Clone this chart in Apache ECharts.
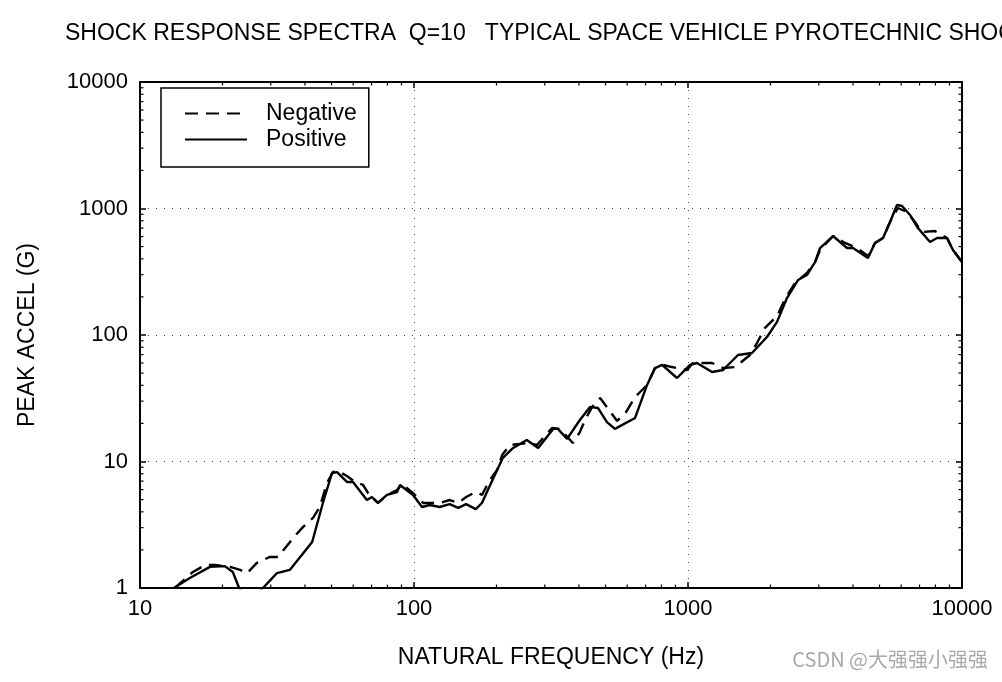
<!DOCTYPE html>
<html>
<head>
<meta charset="utf-8">
<script src="https://cdn.jsdelivr.net/npm/echarts@6/dist/echarts.min.js"></script>
<style>
html,body{margin:0;padding:0;background:#fff;}
#chart{width:1002px;height:682px;}
</style>
</head>
<body>
<div id="chart"></div>
<script>
// Natural frequency (Hz), peak acceleration (G)
const positive = [
  [13.3,1.0],[15.2,1.2],[18.0,1.47],[20.4,1.49],[21.8,1.34],[23.0,1.0],[25.4,0.8],[28.1,1.0],
  [31.6,1.31],[35.2,1.39],[42.5,2.31],[46.5,4.7],[50.2,8.11],[52.4,8.24],[56.9,6.89],[59.9,6.89],
  [67.3,4.96],[70.2,5.24],[73.9,4.7],[79.7,5.44],[86.7,5.74],[88.9,6.52],[99.2,5.44],[107,4.37],
  [114,4.53],[124,4.37],[135,4.6],[145,4.3],[155,4.6],[168,4.2],[177,4.7],[186,5.95],
  [211,10.7],[230,12.8],[258,14.8],[284,12.8],[322,18.1],[335,18.1],[362,15.1],[403,21.3],
  [439,27.0],[469,26.5],[506,20.5],[541,18.1],[641,22.1],[709,40.3],[758,54.8],[804,58.0],
  [912,45.7],[1017,58.0],[1078,60.1],[1224,51.0],[1343,52.9],[1522,69.5],[1712,72.1],[1942,96.4],
  [2113,127],[2297,196],[2520,272],[2717,298],[2908,377],[3034,487],[3383,606],[3805,487],
  [4001,487],[4538,406],[4813,534],[5150,585],[5461,782],[5792,1066],[6043,1047],[6460,889],
  [6906,701],[7643,544],[8108,585],[8817,585],[9270,470],[10000,377]
];
const negative = [
  [13.4,1.0],[15.6,1.34],[17.3,1.52],[18.8,1.52],[21.3,1.47],[23.2,1.39],[24.6,1.31],[26.7,1.58],
  [29.8,1.76],[31.9,1.76],[36.2,2.48],[39.3,3.03],[42.8,3.58],[45.3,4.37],[48.1,6.76],[50.6,8.26],
  [52.8,8.4],[56.9,7.68],[60.9,6.89],[65.2,6.52],[68.0,5.63],[70.2,5.24],[73.9,4.7],[79.7,5.44],
  [86.7,5.95],[90.4,6.64],[99.2,5.63],[108,4.7],[114,4.7],[124,4.7],[135,4.96],[145,4.7],
  [155,5.24],[168,5.74],[177,5.44],[189,7.14],[201,8.57],[210,11.3],[224,13.5],[261,14.0],
  [281,13.5],[319,18.4],[341,18.1],[380,14.0],[403,17.1],[421,21.3],[447,27.0],[478,31.8],
  [515,25.5],[551,20.9],[594,24.6],[641,32.3],[709,40.3],[758,54.8],[811,58.0],[875,55.8],
  [992,52.9],[1042,60.1],[1224,60.1],[1343,54.8],[1486,55.8],[1683,69.5],[1786,86.4],[1910,114],
  [2113,141],[2261,193],[2460,258],[2717,309],[2908,377],[3034,470],[3383,606],[3741,534],
  [4138,487],[4538,421],[4813,534],[5150,585],[5461,782],[5834,1009],[6295,938],[6736,782],
  [7139,651],[7963,664],[8817,585],[9270,470],[10000,377]
];
const seriesNames = ['Negative', 'Positive'];
const xDecades = [10, 100, 1000];
const yDecades = [1, 10, 100, 1000];
const minorMultipliers = [2, 3, 4, 5, 6, 7, 8, 9];
const titleText = 'SHOCK RESPONSE SPECTRA  Q=10   TYPICAL SPACE VEHICLE PYROTECHNIC SHOCK';
const xName = 'NATURAL FREQUENCY (Hz)';
const yName = 'PEAK ACCEL (G)';
const watermark = 'CSDN @大强强小强强';

const X_MIN = 10, X_MAX = 10000, Y_MIN = 1, Y_MAX = 10000;

// minor tick values (kind 0 = x axis, kind 1 = y axis)
const minorTicks = [];
xDecades.forEach(d => minorMultipliers.forEach(m => minorTicks.push([d * m, Y_MIN, 0])));
yDecades.forEach(d => minorMultipliers.forEach(m => minorTicks.push([X_MIN, d * m, 1])));

const FONT = '"Liberation Sans", Arial, sans-serif';
const chart = echarts.init(document.getElementById('chart'), null, {renderer: 'canvas'});

const plainLabel = v => String(Math.round(v));

const commonAxis = {
  type: 'log', logBase: 10,
  axisLine: {show: true, onZero: false, lineStyle: {color: '#000', width: 2}},
  axisTick: {show: true, inside: true, length: 6, lineStyle: {color: '#000', width: 1.5}},
  minorTick: {show: false},
  splitLine: {show: false}
};

chart.setOption({
  animation: false,
  backgroundColor: '#fff',
  title: {
    text: titleText, left: 65, top: 22, padding: 0,
    textStyle: {fontFamily: FONT, fontSize: 23, fontWeight: 'normal', color: '#000'}
  },
  grid: {left: 140, right: 40, top: 82, bottom: 94},
  legend: {
    data: seriesNames, orient: 'vertical', left: 161, top: 88,
    backgroundColor: '#fff', borderColor: '#000', borderWidth: 1.5, borderRadius: 0,
    padding: [14, 12, 16, 23], itemWidth: 62, itemHeight: 14, itemGap: 3,
    itemStyle: {opacity: 0},
    textStyle: {fontFamily: FONT, fontSize: 23, color: '#000', padding: [0, 0, 0, 14]}
  },
  xAxis: [
    Object.assign({}, commonAxis, {
      position: 'bottom', min: X_MIN, max: X_MAX,
      name: xName, nameLocation: 'middle', nameGap: 58,
      nameTextStyle: {fontFamily: FONT, fontSize: 23, color: '#000'},
      axisLabel: {fontFamily: FONT, fontSize: 22, color: '#000', margin: 10, formatter: plainLabel},
      splitLine: {show: true, lineStyle: {color: '#444', width: 1, type: [1, 7]}}
    }),
    Object.assign({}, commonAxis, {
      position: 'top', min: X_MIN, max: X_MAX, axisLabel: {show: false}
    })
  ],
  yAxis: [
    Object.assign({}, commonAxis, {
      position: 'left', min: Y_MIN, max: Y_MAX,
      name: yName, nameLocation: 'middle', nameGap: 101, nameRotate: 90,
      nameTextStyle: {fontFamily: FONT, fontSize: 23, color: '#000'},
      axisLabel: {fontFamily: FONT, fontSize: 22, color: '#000', margin: 12, formatter: plainLabel},
      splitLine: {show: true, lineStyle: {color: '#444', width: 1, type: [1, 7]}}
    }),
    Object.assign({}, commonAxis, {
      position: 'right', min: Y_MIN, max: Y_MAX, axisLabel: {show: false}
    })
  ],
  graphic: [{
    type: 'text', right: 14, top: 649,
    style: {text: watermark, fill: '#a8a8a8', font: '20px "Noto Sans CJK SC", sans-serif'}
  }],
  series: [
    {
      name: 'Negative', type: 'line', data: negative, symbol: 'none', clip: true,
      lineStyle: {color: '#000', width: 2.4, type: [13, 8]}, itemStyle: {color: '#000'}, z: 3
    },
    {
      name: 'Positive', type: 'line', data: positive, symbol: 'none', clip: true,
      lineStyle: {color: '#000', width: 2.4, type: 'solid'}, itemStyle: {color: '#000'}, z: 4
    },
    {
      name: 'minorTicks', type: 'custom', data: minorTicks, clip: false, silent: true, z: 5,
      renderItem: function (params, api) {
        const kind = api.value(2);
        const len = 3.5;
        const st = {stroke: '#000', lineWidth: 1.2};
        if (kind === 0) {
          const v = api.value(0);
          const b = api.coord([v, Y_MIN]);
          const t = api.coord([v, Y_MAX]);
          return {type: 'group', children: [
            {type: 'line', shape: {x1: b[0], y1: b[1], x2: b[0], y2: b[1] - len}, style: st},
            {type: 'line', shape: {x1: t[0], y1: t[1], x2: t[0], y2: t[1] + len}, style: st}
          ]};
        } else {
          const v = api.value(1);
          const l = api.coord([X_MIN, v]);
          const r = api.coord([X_MAX, v]);
          return {type: 'group', children: [
            {type: 'line', shape: {x1: l[0], y1: l[1], x2: l[0] + len, y2: l[1]}, style: st},
            {type: 'line', shape: {x1: r[0], y1: r[1], x2: r[0] - len, y2: r[1]}, style: st}
          ]};
        }
      }
    }
  ]
});
</script>
</body>
</html>
